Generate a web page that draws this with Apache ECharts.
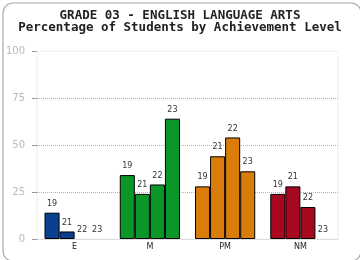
<!DOCTYPE html>
<html><head><meta charset="utf-8">
<script src="https://cdn.jsdelivr.net/npm/echarts@6/dist/echarts.min.js"></script>
<style>html,body{margin:0;padding:0;background:#fff}#c{width:360px;height:260px}</style>
</head><body><div id="c"></div>
<script>
var categories = ['E', 'M', 'PM', 'NM'];
var seriesNames = ['19', '21', '22', '23'];
var values19 = [14, 34, 28, 24];
var values21 = [4, 24, 44, 28];
var values22 = [0, 29, 54, 17];
var values23 = [0, 64, 36, 0];
var yTicks = [0, 25, 50, 75, 100];
var categoryColors = ['#0b3f8f', '#0b9628', '#d97c0a', '#a6081f'];

var allValues = [values19, values21, values22, values23];
var chart = echarts.init(document.getElementById('c'), null, {renderer: 'canvas'});
var series = seriesNames.map(function (name, i) {
  return {
    name: name,
    type: 'bar',
    data: allValues[i].map(function (v) {
      return v === 0 ? {value: v, itemStyle: {borderWidth: 0}} : v;
    }),
    barGap: '0%',
    barCategoryGap: '20%',
    itemStyle: {
      color: function (p) { return categoryColors[p.dataIndex]; },
      borderColor: '#000',
      borderWidth: 1
    },
    label: {
      show: true, position: 'top', distance: 5,
      formatter: function (p) { return p.seriesName; },
      color: '#333', fontFamily: 'DejaVu Sans', fontSize: 8
    }
  };
});
chart.setOption({
  animation: false,
  title: {
    text: 'GRADE 03 - ENGLISH LANGUAGE ARTS\nPercentage of Students by Achievement Level',
    left: 'center', top: 5,
    textStyle: {fontFamily: 'DejaVu Sans Mono', fontWeight: 'bold', fontSize: 12.5, lineHeight: 12, color: '#222'}
  },
  graphic: [{
    type: 'rect', left: 0.5, top: 0.5,
    shape: {width: 358, height: 258, r: 10},
    style: {fill: 'none', stroke: '#aaa', lineWidth: 1.2},
    silent: true
  }],
  grid: {left: 37, right: 22, top: 51, bottom: 21, show: true, borderColor: '#eee', borderWidth: 1},
  xAxis: {
    type: 'category', data: categories,
    axisLine: {show: true, lineStyle: {color: '#ddd'}},
    axisTick: {show: false},
    axisLabel: {color: '#222', fontFamily: 'DejaVu Sans', fontSize: 8, margin: 4}
  },
  yAxis: {
    type: 'value', min: yTicks[0], max: yTicks[yTicks.length - 1], interval: 25,
    axisLine: {show: false},
    axisTick: {show: true, length: 5, lineStyle: {color: '#999'}},
    axisLabel: {color: '#bbb', fontFamily: 'DejaVu Sans', fontSize: 10, margin: 12},
    splitLine: {show: true, showMinLine: false, showMaxLine: false, lineStyle: {color: '#b0b0b0', type: [1, 1], width: 1}}
  },
  series: series
});
</script></body></html>
